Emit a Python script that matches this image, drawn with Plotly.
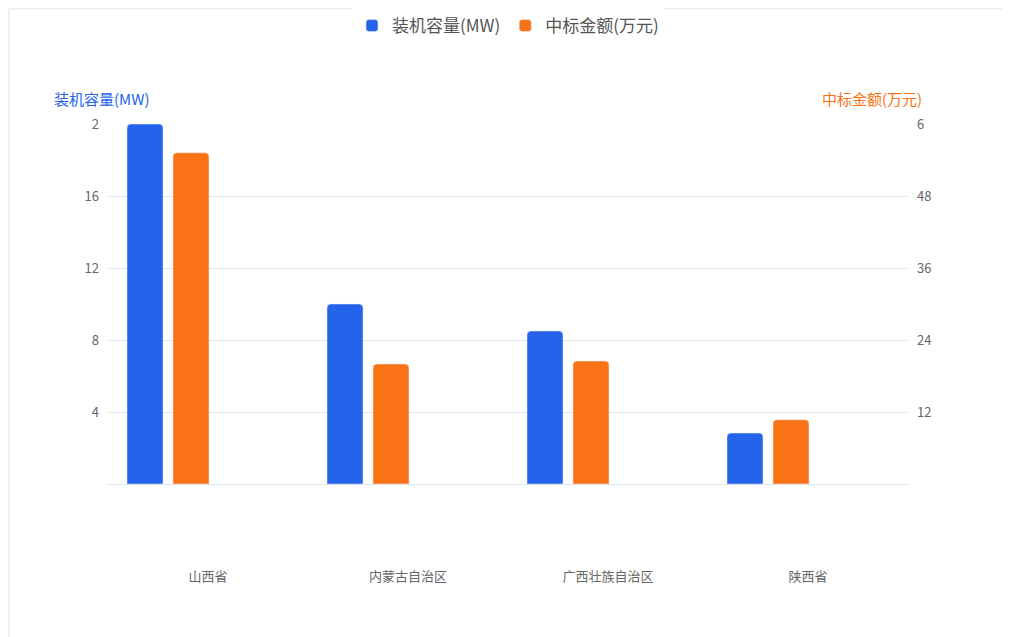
import plotly.graph_objects as go

categories = ["山西省", "内蒙古自治区", "广西壮族自治区", "陕西省"]
capacity = [20, 10, 8.5, 2.83]
amount = [55.2, 20, 20.5, 10.7]
left_ticks = [4, 8, 12, 16, 20]
left_labels = ["4", "8", "12", "16", "2"]
right_ticks = [12, 24, 36, 48, 60]
right_labels = ["12", "24", "36", "48", "6"]

BLUE = "#2563eb"
ORANGE = "#f97316"
FONT = "Noto Sans CJK SC"
xs = list(range(len(categories)))

fig = go.Figure()
fig.add_trace(go.Bar(x=xs, y=capacity, name="装机容量(MW)", marker_color=BLUE,
                     offset=-0.405, width=0.18, yaxis="y"))
fig.add_trace(go.Bar(x=xs, y=amount, name="中标金额(万元)", marker_color=ORANGE,
                     offset=-0.175, width=0.18, yaxis="y2"))

fig.update_layout(
    width=1010, height=637, paper_bgcolor="white", plot_bgcolor="white",
    margin=dict(l=100, r=110, t=116, b=161),
    font=dict(family=FONT, color="#666", size=13),
    barcornerradius=4,
    legend=dict(orientation="h", x=0.5, xanchor="center", y=1.0, yref="container",
                yanchor="top", font=dict(size=17, color="#555"), itemwidth=30,
                traceorder="normal"),
    xaxis=dict(range=[-0.5, 3.5], tickvals=xs, ticktext=categories, showgrid=False,
               showline=True, linecolor="#dde3ea", ticks="", ticklabelstandoff=80,
               zeroline=False),
    yaxis=dict(range=[0, 20], tickvals=left_ticks, ticktext=left_labels,
               gridcolor="#e5e9ef", zeroline=False, ticks="", ticklabelstandoff=8),
    yaxis2=dict(range=[0, 60], tickvals=right_ticks, ticktext=right_labels,
                overlaying="y", side="right", showgrid=False, zeroline=False,
                ticks="", ticklabelstandoff=8),
    annotations=[
        dict(text="装机容量(MW)", xref="paper", yref="paper", x=-0.07, y=1.035,
             xanchor="left", yanchor="bottom", showarrow=False,
             font=dict(color=BLUE, size=15)),
        dict(text="中标金额(万元)", xref="paper", yref="paper", x=1.02, y=1.035,
             xanchor="right", yanchor="bottom", showarrow=False,
             font=dict(color=ORANGE, size=15)),
    ],
    shapes=[dict(type="rect", xref="paper", yref="paper", x0=-0.124, x1=1.134,
                 y0=-0.445, y1=1.32, line=dict(color="#dfe5ee", width=1))],
)
fig.write_html("out.html")
